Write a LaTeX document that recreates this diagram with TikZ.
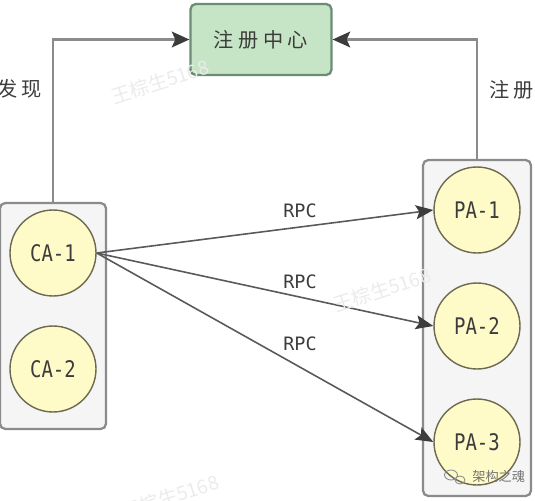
\documentclass[tikz,border=0pt]{standalone}
\usepackage{fontspec}
\usepackage{tikz}
\usetikzlibrary{arrows.meta,shapes.geometric}
\setmainfont{DejaVu Sans Mono}
\newfontfamily\tallfont[FakeStretch=0.83]{DejaVu Sans Mono}
\newfontfamily\cjk[LetterSpace=22]{Noto Sans CJK SC}
\newfontfamily\wmfont{Noto Sans CJK SC}
\definecolor{boxgray}{HTML}{F5F5F6}
\definecolor{boxline}{HTML}{8B8B8B}
\definecolor{ballfill}{HTML}{FFFBC9}
\definecolor{ballline}{HTML}{6E6A50}
\definecolor{regfill}{HTML}{C6E5C6}
\definecolor{regline}{HTML}{6C8C74}
\definecolor{inkgray}{HTML}{3C3C3C}
\tikzset{
	group/.style={draw=boxline,fill=boxgray,line width=1.3pt,rounded corners=3pt,inner sep=0pt},
	ball/.style={draw=ballline,fill=ballfill,circle,line width=0.8pt,minimum size=1.72cm,inner sep=0pt,text=inkgray,font=\tallfont\fontsize{13}{14}\selectfont},
	trunk/.style={draw=boxline,line width=1.3pt,-{Stealth[length=10pt,width=9pt,inset=2pt,color=inkgray]}},
	link/.style={draw=inkgray!85,line width=0.9pt,-{Stealth[length=10pt,width=8pt,inset=2pt,color=inkgray]}},
	label/.style={text=inkgray,font=\fontsize{10.5}{12}\selectfont},
	wmark/.style={text=black!8,font=\wmfont\fontsize{11}{12}\selectfont,rotate=18}
}
\begin{document}
\begin{tikzpicture}[x=0.02cm,y=-0.02cm]
	\useasboundingbox (0,0) rectangle (535,501);

	\node [name=consumers,group,minimum width=2.12cm,minimum height=4.52cm] at (53,316) {};
	\node [name=providers,group,minimum width=2.16cm,minimum height=6.72cm] at (477,328) {};
	\node [name=registry,draw=regline,fill=regfill,line width=1.3pt,rounded corners=3pt,minimum width=2.82cm,minimum height=1.42cm,text=inkgray] at (261,39.5) {\cjk\fontsize{11.5}{13}\selectfont 注册中心};

	\node [name=ca1,ball] at (53,253) {CA-1};
	\node [name=ca2,ball] at (53,369) {CA-2};
	\node [name=pa1,ball] at (477,210) {PA-1};
	\node [name=pa2,ball] at (477,326) {PA-2};
	\node [name=pa3,ball] at (477,442) {PA-3};

	\node [name=find,text=inkgray,anchor=west,inner sep=0pt] at (-3,89) {\cjk\fontsize{11.5}{13}\selectfont 发现};
	\node [name=enrol,text=inkgray,anchor=west,inner sep=0pt] at (489,90) {\cjk\fontsize{11.5}{13}\selectfont 注册};

	\node [name=rpc1,label] at (300,211) {RPC};
	\node [name=rpc2,label] at (300,282) {RPC};
	\node [name=rpc3,label] at (300,344) {RPC};

	\draw [trunk] (consumers.north) |- (registry.west);
	\draw [trunk] (providers.north) |- (registry.east);

	\draw [link] (ca1.east) -- (pa1.west);
	\draw [link] (ca1.east) -- (pa2.west);
	\draw [link] (ca1.east) -- (pa3.west);

	% faint marks over the picture
	\node [name=mark1,wmark] at (160,82) {王棕生5168};
	\node [name=mark2,wmark] at (382,290) {王棕生5168};
	\node [name=mark3,wmark] at (170,497) {王棕生5168};
	\node [name=mark4,text=black!55,font=\wmfont\fontsize{7.5}{9}\selectfont,anchor=west,inner sep=0pt] at (472,476) {架构之魂};
	\node [name=chat1,draw=black!45,ellipse,line width=0.5pt,minimum width=0.26cm,minimum height=0.2cm,inner sep=0pt] at (451,475) {};
	\node [name=chat2,draw=black!45,ellipse,line width=0.5pt,minimum width=0.2cm,minimum height=0.16cm,inner sep=0pt] at (460,480) {};
\end{tikzpicture}
\end{document}
